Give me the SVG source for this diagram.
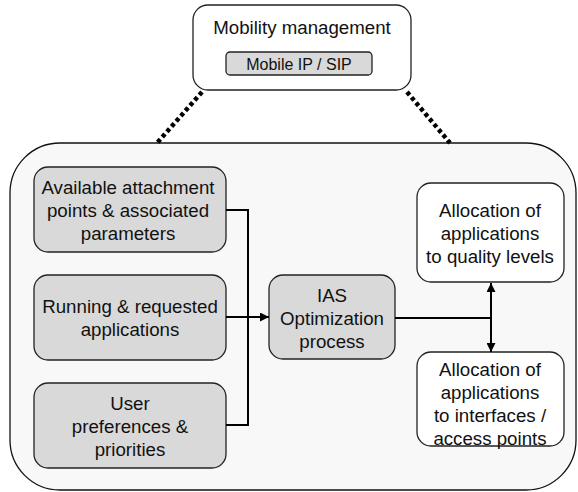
<svg xmlns="http://www.w3.org/2000/svg" width="578" height="492" viewBox="0 0 578 492">
  <defs>
    <marker id="arrow" viewBox="0 0 10 10" refX="10" refY="5" markerWidth="9" markerHeight="9" markerUnits="userSpaceOnUse" orient="auto-start-reverse">
      <path d="M0,0 L10,5 L0,10 z" fill="#000"/>
    </marker>
  </defs>
  <style>
    text { font-family: "Liberation Sans", Arial, sans-serif; font-size: 18.7px; fill: #111; text-anchor: middle; }
    .small { font-size: 16px; }
    .box { stroke: #222; stroke-width: 1.3; }
    .grey { fill: #d9d9d9; }
    .white { fill: #ffffff; }
    .wire { fill: none; stroke: #000; stroke-width: 2; }
    .dots { fill: none; stroke: #000; stroke-width: 4.5; stroke-dasharray: 4 3; }
  </style>
  <rect width="578" height="492" fill="#ffffff"/>

  <!-- terminal container -->
  <g id="terminal">
    <rect x="10" y="143" width="566" height="347" rx="50" ry="50" fill="#f8f8f8" stroke="#111" stroke-width="1.3"/>
  </g>

  <!-- dotted links to mobility management -->
  <g id="links">
    <line class="dots" x1="202" y1="92" x2="157" y2="143"/>
    <line class="dots" x1="407" y1="92" x2="450" y2="143"/>
  </g>

  <g id="mobility">
    <rect class="box white" x="193" y="5" width="218" height="85" rx="15" ry="15"/>
    <text x="302" y="34">Mobility management</text>
    <rect class="box grey" x="226" y="52" width="146" height="23" rx="4" ry="4"/>
    <text class="small" x="299" y="70">Mobile IP / SIP</text>
  </g>

  <g id="attachment">
    <rect class="box grey" x="34" y="167" width="192" height="85" rx="14" ry="14"/>
    <text x="128" y="194">Available attachment</text>
    <text x="128" y="217">points &amp; associated</text>
    <text x="128" y="240">parameters</text>
  </g>

  <g id="applications">
    <rect class="box grey" x="34" y="275" width="192" height="85" rx="14" ry="14"/>
    <text x="130" y="313">Running &amp; requested</text>
    <text x="130" y="336">applications</text>
  </g>

  <g id="preferences">
    <rect class="box grey" x="34" y="383" width="192" height="85" rx="14" ry="14"/>
    <text x="130" y="410">User</text>
    <text x="130" y="433">preferences &amp;</text>
    <text x="130" y="456">priorities</text>
  </g>

  <g id="optimization">
    <rect class="box grey" x="269" y="275" width="126" height="84" rx="14" ry="14"/>
    <text x="332" y="302">IAS</text>
    <text x="332" y="325">Optimization</text>
    <text x="332" y="348">process</text>
  </g>

  <g id="quality">
    <rect class="box white" x="417" y="183" width="147" height="99" rx="14" ry="14"/>
    <text x="490" y="217">Allocation of</text>
    <text x="490" y="240">applications</text>
    <text x="490" y="263">to quality levels</text>
  </g>

  <g id="interfaces">
    <rect class="box white" x="417" y="352" width="147" height="94" rx="14" ry="14"/>
    <text x="490" y="376">Allocation of</text>
    <text x="490" y="399">applications</text>
    <text x="490" y="422">to interfaces /</text>
    <text x="490" y="445">access points</text>
  </g>

  <g id="connectors">
    <polyline class="wire" points="226,210 248,210 248,425 226,425"/>
    <line class="wire" x1="226" y1="317" x2="269" y2="317" marker-end="url(#arrow)"/>
    <line class="wire" x1="395" y1="318" x2="491" y2="318"/>
    <line class="wire" x1="491" y1="283" x2="491" y2="352" marker-start="url(#arrow)" marker-end="url(#arrow)"/>
  </g>
</svg>
